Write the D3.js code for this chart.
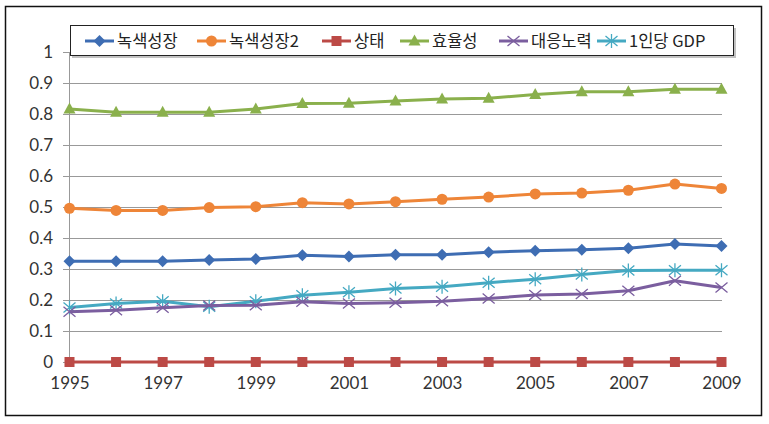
<!DOCTYPE html>
<html><head><meta charset="utf-8">
<script src="https://cdn.jsdelivr.net/npm/d3@7"></script>
<style>body{margin:0;background:#fff}</style>
</head><body><svg id="c" width="769" height="424"></svg>
<script>
const years = [1995,1996,1997,1998,1999,2000,2001,2002,2003,2004,2005,2006,2007,2008,2009];
const seriesNames = ["녹색성장","녹색성장2","상태","효율성","대응노력","1인당 GDP"];
const green1 = [0.325,0.325,0.325,0.329,0.332,0.344,0.340,0.346,0.346,0.354,0.359,0.362,0.367,0.381,0.374];
const green2 = [0.496,0.489,0.489,0.498,0.501,0.514,0.510,0.517,0.525,0.532,0.542,0.545,0.554,0.574,0.560];
const state = [0,0,0,0,0,0,0,0,0,0,0,0,0,0,0];
const efficiency = [0.816,0.806,0.806,0.806,0.816,0.834,0.835,0.842,0.848,0.851,0.863,0.872,0.872,0.880,0.880];
const response = [0.162,0.167,0.175,0.182,0.183,0.194,0.189,0.191,0.196,0.205,0.216,0.219,0.230,0.262,0.240];
const gdp = [0.176,0.189,0.196,0.178,0.196,0.215,0.225,0.237,0.243,0.256,0.267,0.282,0.295,0.296,0.296];
const yTicks = [0,0.1,0.2,0.3,0.4,0.5,0.6,0.7,0.8,0.9,1];
const xTickYears = [1995,1997,1999,2001,2003,2005,2007,2009];

const colors = ["#3E6DB3","#EE8538","#BC4A46","#8AB04C","#7B5E9F","#45A9C2"];
const markers = ["diamond","circle","square","triangle","x","asterisk"];
const data = [green1, green2, state, efficiency, response, gdp];

const svg = d3.select("#c");
const numFont = "Lato, 'Liberation Sans', sans-serif";
const krFont = "'Noto Sans CJK KR', sans-serif";

// outer frame
svg.append("rect").attr("x",5.5).attr("y",6.5).attr("width",756).attr("height",409)
  .attr("fill","#fff").attr("stroke","#111").attr("stroke-width",1.5);

const x = d3.scaleLinear().domain([1995,2009]).range([69.5,721.5]);
const y = d3.scaleLinear().domain([0,1]).range([362,52]);

// gridlines
const grid = svg.append("g");
grid.selectAll("line").data(yTicks).join("line")
  .attr("x1",63).attr("x2",722).attr("y1",d=>Math.round(y(d))+0.5).attr("y2",d=>Math.round(y(d))+0.5)
  .attr("stroke","#999").attr("stroke-width",1);
// y axis line
svg.append("line").attr("x1",69.5).attr("x2",69.5).attr("y1",y(1)).attr("y2",y(0)).attr("stroke","#999");

// y axis labels
const yAxis = d3.axisLeft(y).tickValues(yTicks).tickFormat(d=>d===0?"0":d===1?"1":d3.format(".1f")(d)).tickSize(0).tickPadding(0);
const ya = svg.append("g").attr("transform","translate(53,0)").call(yAxis);
ya.select(".domain").remove();
ya.selectAll("text").attr("font-family",numFont).attr("font-size",17).attr("fill","#333").attr("dy","0.35em");

// x axis labels
const xAxis = d3.axisBottom(x).tickValues(xTickYears).tickFormat(d3.format("d")).tickSize(0).tickPadding(0);
const xa = svg.append("g").attr("transform","translate(0,376)").call(xAxis);
xa.select(".domain").remove();
xa.selectAll("text").attr("font-family",numFont).attr("font-size",17).attr("fill","#333").attr("dy","0.75em");

function drawMarker(g, type, color, cx, cy){
  if(type==="diamond"){
    g.append("path").attr("d",`M${cx},${cy-6}L${cx+6},${cy}L${cx},${cy+6}L${cx-6},${cy}Z`).attr("fill",color);
  } else if(type==="circle"){
    g.append("circle").attr("cx",cx).attr("cy",cy).attr("r",5.5).attr("fill",color);
  } else if(type==="square"){
    g.append("rect").attr("x",cx-5).attr("y",cy-5).attr("width",10).attr("height",10).attr("fill",color);
  } else if(type==="triangle"){
    g.append("path").attr("d",`M${cx},${cy-6.5}L${cx+6},${cy+4.5}L${cx-6},${cy+4.5}Z`).attr("fill",color);
  } else if(type==="x"){
    g.append("path").attr("d",`M${cx-6},${cy-5}L${cx+6},${cy+5}M${cx-6},${cy+5}L${cx+6},${cy-5}`).attr("stroke",color).attr("stroke-width",1.3).attr("fill","none");
  } else if(type==="asterisk"){
    g.append("path").attr("d",`M${cx-6},${cy-5}L${cx+6},${cy+5}M${cx-6},${cy+5}L${cx+6},${cy-5}M${cx},${cy-7}L${cx},${cy+7}`).attr("stroke",color).attr("stroke-width",1.3).attr("fill","none");
  }
}

const line = d3.line().x((d,i)=>x(years[i])).y(d=>y(d));
const order = [3,1,0,5,4,2];
order.forEach(si=>{
  const g = svg.append("g");
  g.append("path").datum(data[si]).attr("d",line).attr("fill","none")
    .attr("stroke",colors[si]).attr("stroke-width",3).attr("stroke-linejoin","round");
  data[si].forEach((v,i)=>drawMarker(g, markers[si], colors[si], x(years[i]), y(v)));
});

// legend
const lg = svg.append("g");
lg.append("rect").attr("x",72).attr("y",28).attr("width",664).attr("height",30).attr("fill","#999").attr("opacity",0.6);
lg.append("rect").attr("x",70.5).attr("y",25.5).attr("width",663).attr("height",30).attr("fill","#fff").attr("stroke","#222").attr("stroke-width",1);
const legX = [85,197,322,400,499,597];
seriesNames.forEach((n,i)=>{
  const gg = lg.append("g");
  gg.append("line").attr("x1",legX[i]).attr("x2",legX[i]+29).attr("y1",41).attr("y2",41).attr("stroke",colors[i]).attr("stroke-width",3);
  drawMarker(gg, markers[i], colors[i], legX[i]+14.5, 41);
  gg.append("text").attr("x",legX[i]+32).attr("y",41).attr("dy","0.36em")
    .attr("font-family",krFont).attr("font-size",16.5).attr("fill","#222").text(n);
});
</script></body></html>
